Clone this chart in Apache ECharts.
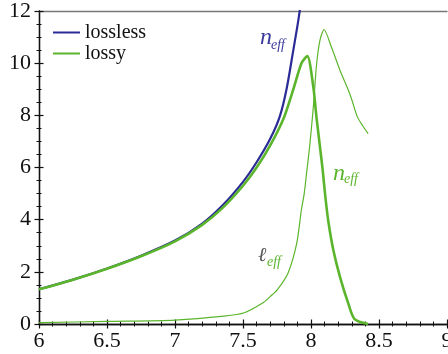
<!DOCTYPE html>
<html>
<head>
<meta charset="utf-8">
<script src="https://cdn.jsdelivr.net/npm/echarts@6/dist/echarts.min.js"></script>
</head>
<body style="margin:0">
<div id="chart" style="width:448px;height:354px"></div>
<script>
// lossless n_eff
var losslessX = [6.0, 6.25, 6.5, 6.75, 7.0, 7.2, 7.35, 7.5, 7.6, 7.7, 7.77, 7.82, 7.87, 7.907, 7.93];
var losslessY = [1.33, 1.7, 2.13, 2.62, 3.2, 3.85, 4.55, 5.45, 6.2, 7.1, 7.95, 9.0, 10.5, 11.65, 12.5];

// lossy n_eff (thick green)
var lossyX = [6.0, 6.25, 6.5, 6.75, 7.0, 7.2, 7.35, 7.5, 7.6, 7.7, 7.8, 7.87, 7.93, 7.973, 8.017, 8.04, 8.066, 8.086, 8.105, 8.127, 8.164, 8.213, 8.274, 8.32, 8.42];
var lossyY = [1.33, 1.7, 2.12, 2.6, 3.17, 3.8, 4.45, 5.3, 6.0, 6.85, 7.9, 9.0, 10.0, 10.27, 9.09, 7.94, 6.79, 5.9, 4.9, 3.95, 2.84, 1.81, 0.79, 0.19, 0.0];

// lossy l_eff (thin green)
var leffX = [6.0, 6.5, 7.0, 7.36, 7.51, 7.65, 7.7, 7.75, 7.83, 7.895, 7.93, 7.95, 7.97, 7.99, 8.01, 8.02, 8.04, 8.066, 8.096, 8.15, 8.213, 8.274, 8.3, 8.34, 8.38, 8.42];
var leffY = [0.05, 0.1, 0.15, 0.3, 0.43, 0.82, 1.05, 1.3, 1.94, 3.09, 4.4, 5.0, 5.9, 6.8, 7.9, 8.5, 9.9, 10.88, 11.29, 10.62, 9.73, 8.97, 8.6, 7.95, 7.6, 7.3];

var xTicks = [6, 6.5, 7, 7.5, 8, 8.5, 9];
var yTicks = [0, 2, 4, 6, 8, 10, 12];

function pairs(xs, ys) {
  return xs.map(function (x, i) { return [x, ys[i]]; });
}

var blue = '#2b2b96';
var green = '#5bb52c';
var fam = "'Liberation Serif', 'Times New Roman', Times, serif";
var ell = '\u2113'; // script small l

var chart = echarts.init(document.getElementById('chart'));

function xAx(pos, inside, labels, lineColor) {
  return {
    type: 'value', position: pos,
    min: xTicks[0], max: xTicks[xTicks.length - 1], interval: 0.5,
    splitLine: { show: false },
    axisLine: { show: true, onZero: false, lineStyle: { color: lineColor, width: 1.3 } },
    axisTick: { show: pos === 'bottom', inside: inside, length: 4.5, lineStyle: { color: '#111', width: 1.2 } },
    minorTick: { show: pos === 'bottom', splitNumber: 5, length: 2.5, lineStyle: { color: '#111', width: 1 } },
    axisLabel: { show: labels, fontFamily: fam, fontSize: 22, color: '#111', margin: 6, showMaxLabel: true, hideOverlap: false }
  };
}

function yAx(inside, labels) {
  return {
    type: 'value', position: 'left',
    min: yTicks[0], max: yTicks[yTicks.length - 1], interval: 2,
    splitLine: { show: false },
    axisLine: { show: true, onZero: false, lineStyle: { color: '#111', width: 1.3 } },
    axisTick: { show: true, inside: inside, length: 4.5, lineStyle: { color: '#111', width: 1.2 } },
    minorTick: { show: true, splitNumber: 4, length: 2.5, lineStyle: { color: '#111', width: 1 } },
    axisLabel: { show: labels, fontFamily: fam, fontSize: 22, color: '#111', margin: 8 }
  };
}

function note(txt, x, y, size, color) {
  return {
    type: 'text', left: x, top: y,
    style: { text: txt, fontFamily: fam, fontStyle: 'italic', fontSize: size, fill: color }
  };
}

var option = {
  textStyle: { fontFamily: fam },
  grid: { left: 39, right: 1, top: 11, bottom: 30, containLabel: false, outerBoundsMode: 'none' },
  xAxis: [
    xAx('bottom', false, true, '#111'),
    xAx('bottom', true, false, '#111'),
    xAx('top', false, false, '#777')
  ],
  yAxis: [yAx(false, true), yAx(true, false)],
  legend: {
    orient: 'vertical', left: 48, top: 17,
    itemWidth: 27, itemHeight: 2, itemGap: 0,
    icon: 'rect',
    data: ['lossless', 'lossy'],
    textStyle: { fontFamily: fam, fontSize: 20, color: '#111', lineHeight: 21 }
  },
  series: [
    {
      name: 'lossless', type: 'line', data: pairs(losslessX, losslessY),
      smooth: 0.3, showSymbol: false, color: blue,
      lineStyle: { color: blue, width: 2.2 }, z: 3
    },
    {
      name: 'lossy', type: 'line', data: pairs(lossyX, lossyY),
      smooth: 0.25, showSymbol: false, color: green,
      lineStyle: { color: green, width: 2.6 }, z: 4
    },
    {
      name: 'leff', type: 'line', data: pairs(leffX, leffY),
      smooth: 0.25, showSymbol: false, color: green,
      lineStyle: { color: green, width: 1.2 }, z: 2
    }
  ],
  graphic: [
    note('n', 260, 26, 24, '#3a3a9c'),
    note('eff', 271, 38, 14, '#3a3a9c'),
    note('n', 333, 162, 24, green),
    note('eff', 344, 172, 14, green),
    note(ell, 258, 246, 20, '#555'),
    note('eff', 267, 255, 14, green)
  ]
};

chart.setOption(option);
</script>
</body>
</html>
